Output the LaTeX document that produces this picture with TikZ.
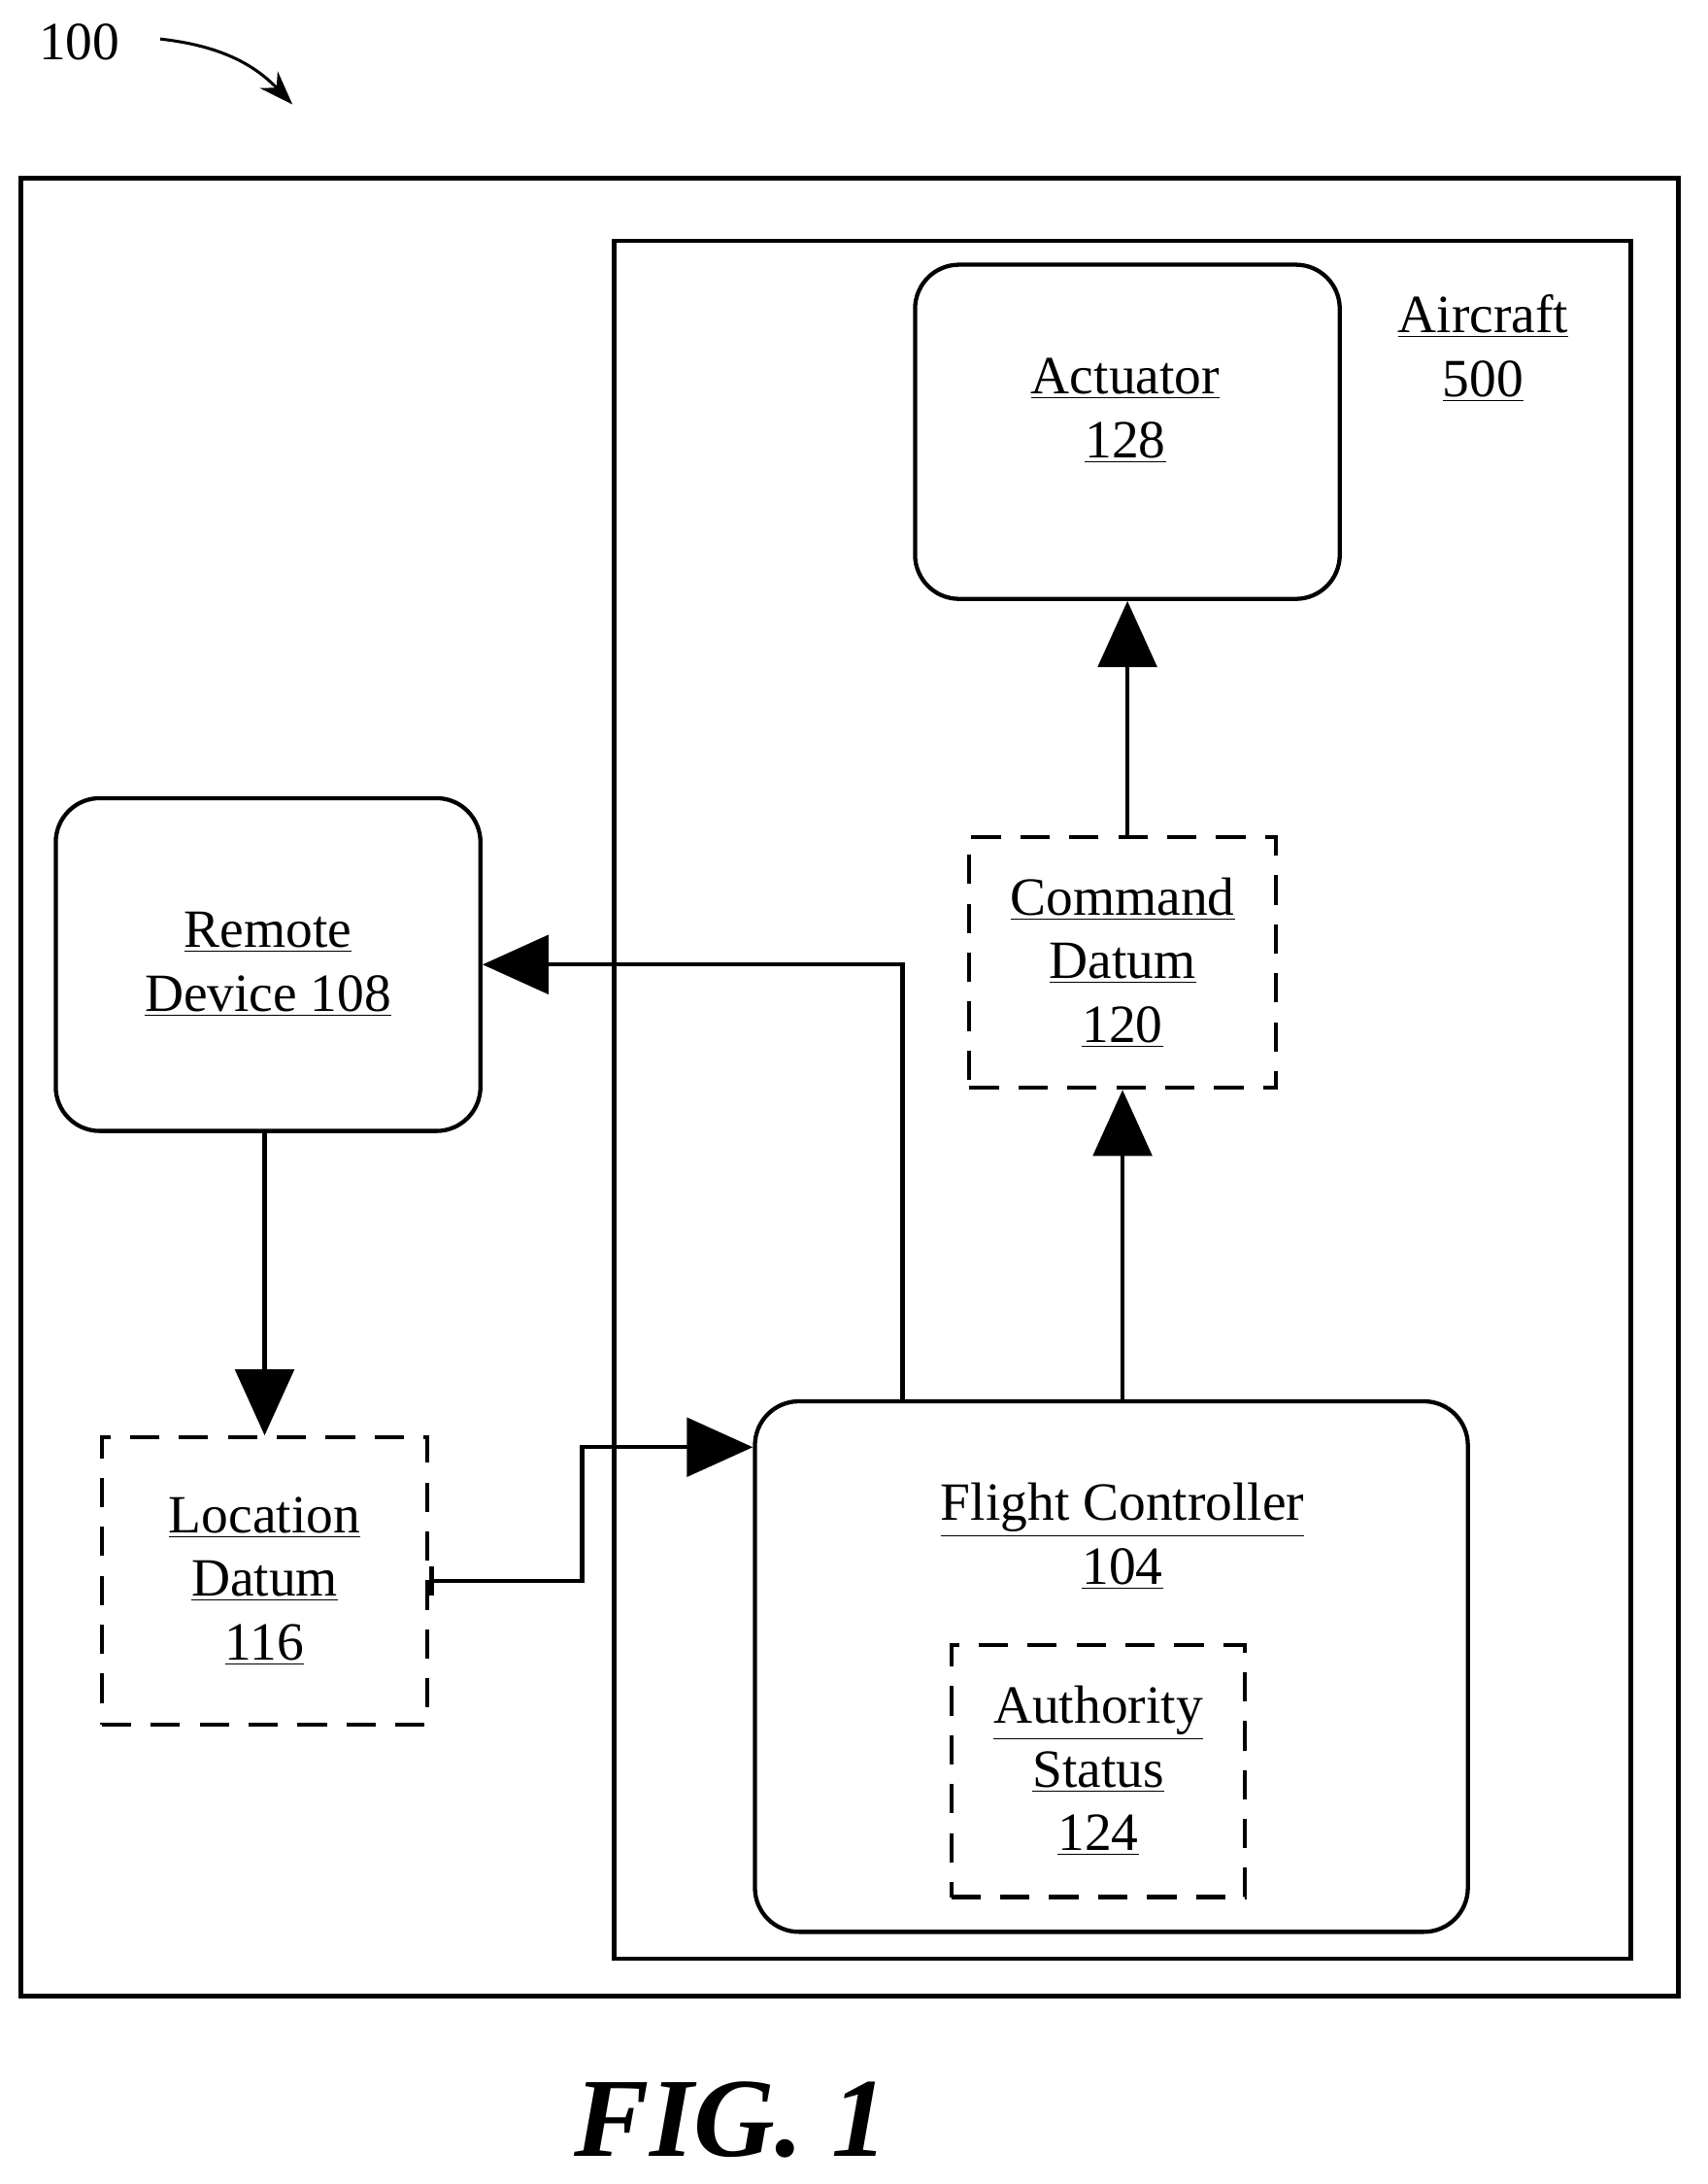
\documentclass[tikz,border=0pt]{standalone}
\usepackage{fontspec}
\setmainfont{Liberation Serif}
\usetikzlibrary{arrows.meta}
\tikzset{
  box/.style={draw, line width=1.7pt, rounded corners=18pt, inner sep=0pt},
  dbox/.style={draw, line width=1.7pt, dash pattern=on 12pt off 8pt, inner sep=0pt},
  txt/.style={align=center, font=\fontsize{22}{26}\selectfont},
  conn/.style={line width=1.7pt, -{Triangle[length=27pt,width=24pt]}},
}
\newcommand{\ul}[1]{\underline{#1}}
\begin{document}
\begin{tikzpicture}[x=0.02cm, y=-0.02cm]
\useasboundingbox (0,0) rectangle (1226,1568);
% frames
\draw[line width=1.7pt] (15,128) rectangle (1205,1433);
\draw[line width=1.7pt] (441,173) rectangle (1171,1406);
\node[txt] (air) at (1065,250) {\ul{Aircraft}\\\ul{500}};
% blocks
\node[box, minimum width=6.1cm, minimum height=4.8cm] (act) at (809.5,310) {};
\node[txt] (actl) at (808,295) {\ul{Actuator}\\\ul{128}};
\node[dbox, txt, minimum width=4.4cm, minimum height=3.6cm] (cmd) at (806,691) {\ul{Command}\\\ul{Datum}\\\ul{120}};
\node[box, txt, minimum width=6.1cm, minimum height=4.78cm] (rem) at (192.5,692.5) {\ul{Remote}\\\ul{Device 108}};
\node[dbox, txt, minimum width=4.68cm, minimum height=4.12cm] (loc) at (190,1135) {\ul{Location}\\\ul{Datum}\\\ul{116}};
\node[box, minimum width=10.24cm, minimum height=7.62cm] (fc) at (798,1196.5) {};
\node[txt] (fcl) at (806,1103) {\ul{Flight Controller}\\\ul{104}};
\node[dbox, txt, minimum width=4.22cm, minimum height=3.62cm] (auth) at (788.5,1271.5) {\ul{Authority}\\\ul{Status}\\\ul{124}};
% connectors
\draw[conn] (cmd.north -| act.south) -- (act.south);
\draw[conn] (fc.north -| cmd.south) -- (cmd.south);
\draw[conn] (fc.north -| 648,0) |- (rem.east);
\draw[conn] (rem.south -| loc.north) -- (loc.north);
\draw[line width=1.7pt, {Bar[width=12pt]}-{Triangle[length=27pt,width=24pt]}] (loc.east) -| (418,1039) -- (fc.north west |- 0,1039);
% reference label
\node[font=\fontsize{22}{26}\selectfont] (ref) at (57,30) {100};
\coordinate (refend) at (210,75);
\draw[line width=1.2pt, -{Stealth[length=14pt,width=10pt]}] (115,28) to[bend left=20] (refend);
\node[font=\fontsize{46}{52}\selectfont\bfseries\itshape] (fig) at (525,1522) {FIG. 1};
\end{tikzpicture}
\end{document}
